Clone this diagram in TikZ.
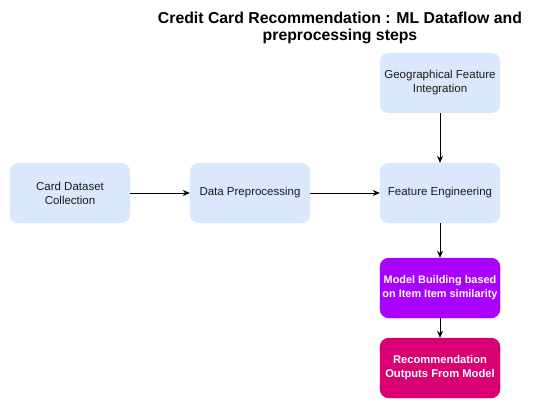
\documentclass[tikz,border=0pt]{standalone}
\usepackage{fontspec}
\setmainfont{Liberation Sans}
\usetikzlibrary{arrows.meta}
\definecolor{lblue}{HTML}{DAE8FC}
\definecolor{purp}{HTML}{AA00FF}
\definecolor{magen}{HTML}{D80073}
\definecolor{txt}{HTML}{1A1A1A}
\tikzset{
  box/.style={rounded corners=9pt, minimum width=120pt, minimum height=60pt, inner sep=1pt, align=center, font=\fontsize{11.5}{14}\selectfont, text=txt},
  bluebox/.style={box, fill=lblue, draw=lblue},
  purpbox/.style={box, fill=purp, draw=purp!80!black, text=white, font=\fontsize{10.9}{14}\selectfont\bfseries},
  magbox/.style={box, fill=magen, draw=magen!80!black, text=white, font=\fontsize{11.2}{14}\selectfont\bfseries},
  arr/.style={-{Stealth[length=7pt,width=6pt]}, line width=0.9pt, black}
}
\begin{document}
\begin{tikzpicture}[x=1pt,y=-1pt]
\useasboundingbox (0,0) rectangle (541,409);
\node[align=center, font=\fontsize{15.8}{17.5}\selectfont\bfseries] (title) at (340,28) {Credit Card Recommendation : ML Dataflow and\\preprocessing steps};
\node[bluebox] (card) at (70,193) {Card Dataset\\Collection};
\node[bluebox] (prep) at (250,193) {Data Preprocessing};
\node[bluebox] (feat) at (440,193) {Feature Engineering};
\node[bluebox] (geo) at (440,83) {Geographical Feature\\Integration};
\node[purpbox] (model) at (440,288) {Model Building based\\on Item Item similarity};
\node[magbox] (rec) at (440,368) {Recommendation\\Outputs From Model};
\draw[arr] (card) -- (prep);
\draw[arr] (prep) -- (feat);
\draw[arr] (geo) -- (feat);
\draw[arr] (feat) -- (model);
\draw[arr] (model) -- (rec);
\end{tikzpicture}
\end{document}
